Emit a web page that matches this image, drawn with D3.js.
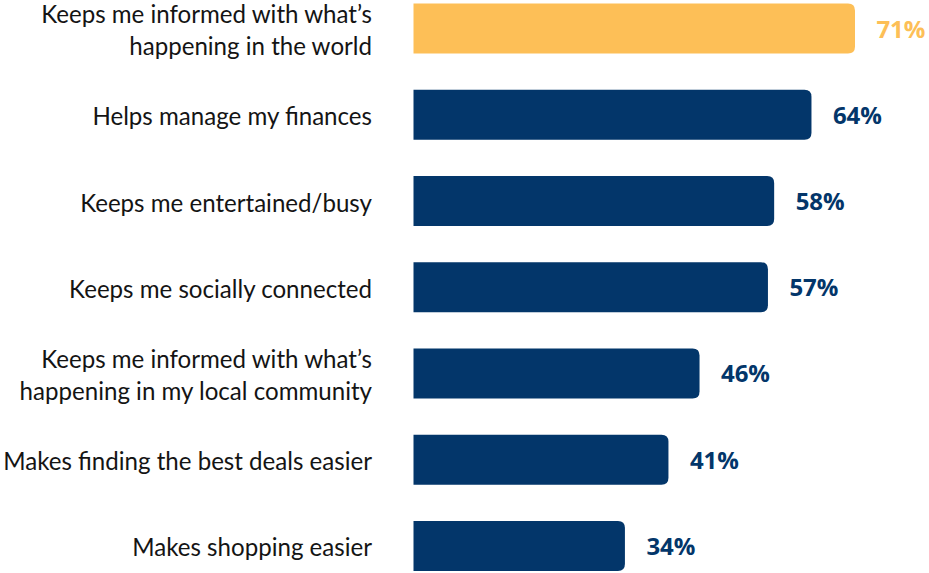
<!DOCTYPE html>
<html>
<head>
<meta charset="utf-8">
<script src="https://cdn.jsdelivr.net/npm/d3@7"></script>
<style>
  html, body { margin: 0; padding: 0; background: #ffffff; }
  svg { display: block; }
</style>
</head>
<body>
<svg id="chart" width="929" height="573"></svg>
<script>
// Reasons for using the service, share of respondents (%)
const categories = [
  "Keeps me informed with what\u2019s|happening in the world",
  "Helps manage my finances",
  "Keeps me entertained/busy",
  "Keeps me socially connected",
  "Keeps me informed with what\u2019s|happening in my local community",
  "Makes finding the best deals easier",
  "Makes shopping easier"
];
const values = [71, 64, 58, 57, 46, 41, 34];
const highlight = [true, false, false, false, false, false, false];

const NAVY = "#03366a";
const GOLD = "#fdbf57";

const svg = d3.select("#chart");

const x = d3.scaleLinear().domain([0, 71]).range([413.5, 855]);
const y = d3.scaleBand().domain(categories).range([3.5, 571])
  .paddingInner(0.42).paddingOuter(0);

const rows = categories.map((c, i) => ({ cat: c, value: values[i], hl: highlight[i] }));

// bar with square left end and rounded right corners
function barPath(x0, x1, y0, h, r) {
  return `M${x0},${y0}H${x1 - r}Q${x1},${y0} ${x1},${y0 + r}` +
         `V${y0 + h - r}Q${x1},${y0 + h} ${x1 - r},${y0 + h}H${x0}Z`;
}

svg.append("g").selectAll("path")
  .data(rows)
  .join("path")
  .attr("d", d => barPath(x(0), x(d.value), y(d.cat), y.bandwidth(), 7))
  .attr("fill", d => d.hl ? GOLD : NAVY);

// value labels
svg.append("g").selectAll("text")
  .data(rows)
  .join("text")
  .attr("x", d => x(d.value) + 21.5)
  .attr("y", d => y(d.cat) + y.bandwidth() / 2 + 9)
  .attr("font-family", "'Open Sans', sans-serif")
  .attr("font-weight", 700)
  .attr("font-size", 24)
  .attr("letter-spacing", -0.1)
  .attr("fill", d => d.hl ? GOLD : NAVY)
  .text(d => d.value + "%");

// category labels, right-aligned, wrapped at "|"
const lbl = svg.append("g").selectAll("text")
  .data(rows)
  .join("text")
  .attr("text-anchor", "end")
  .attr("font-family", "Lato, sans-serif")
  .attr("font-size", 24.1)
  .attr("fill", "#141414");

lbl.each(function (d) {
  const lines = d.cat.split("|");
  const mid = y(d.cat) + y.bandwidth() / 2 + 10.5;
  const lh = 32;
  const t = d3.select(this);
  lines.forEach((ln, k) => {
    t.append("tspan")
      .attr("x", 372)
      .attr("y", mid + (k - (lines.length - 1) / 2) * lh)
      .text(ln);
  });
});
</script>
</body>
</html>
